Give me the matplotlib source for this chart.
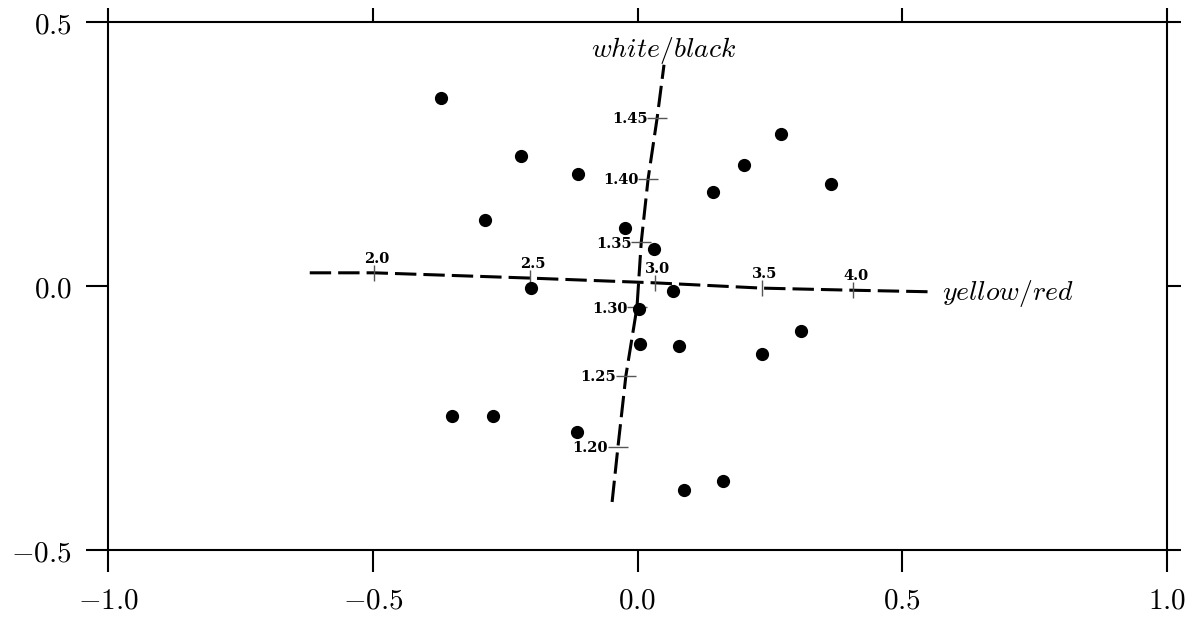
import numpy as np
import matplotlib
matplotlib.use('Agg')
import matplotlib.pyplot as plt

plt.rcParams['mathtext.fontset'] = 'cm'
plt.rcParams['font.family'] = 'serif'
plt.rcParams['font.serif'] = ['DejaVu Serif']

# observations (biplot scores)
pts_x = [-0.371, -0.220, -0.112, -0.288, -0.024, 0.031, 0.271, 0.201, 0.143, 0.365, -0.201,
         0.067, 0.003, 0.005, 0.078, 0.309, 0.235, -0.350, -0.273, -0.114, 0.088, 0.161]
pts_y = [0.356, 0.246, 0.212, 0.125, 0.110, 0.070, 0.288, 0.229, 0.178, 0.193, -0.004,
         -0.009, -0.044, -0.110, -0.114, -0.085, -0.129, -0.246, -0.246, -0.277, -0.386, -0.369]

# calibrated axis: yellow/red
yr_ticks = [2.0, 2.5, 3.0, 3.5, 4.0]
yr_x = [-0.498, -0.203, 0.033, 0.235, 0.407]
yr_y = [0.025, 0.015, 0.006, -0.004, -0.008]
yr_ends_x = [-0.619, 0.556]
yr_ends_y = [0.025, -0.011]

# calibrated axis: white/black
wb_ticks = [1.20, 1.25, 1.30, 1.35, 1.40, 1.45]
wb_x = [-0.037, -0.022, -0.001, 0.007, 0.020, 0.037]
wb_y = [-0.305, -0.170, -0.040, 0.083, 0.203, 0.318]
wb_ends_x = [-0.048, 0.050]
wb_ends_y = [-0.409, 0.419]

fig = plt.figure(figsize=(11.96, 6.18), dpi=100)
ax = fig.add_axes([0.0903, 0.110, 0.8855, 0.8544])

dash = (0, (7, 2.3))
lx = [yr_ends_x[0]] + yr_x + [yr_ends_x[1]]
ly = [yr_ends_y[0]] + yr_y + [yr_ends_y[1]]
ax.plot(lx, ly, color='black', lw=2.2, linestyle=dash, zorder=2)
lx = [wb_ends_x[0]] + wb_x + [wb_ends_x[1]]
ly = [wb_ends_y[0]] + wb_y + [wb_ends_y[1]]
ax.plot(lx, ly, color='black', lw=2.2, linestyle=dash, zorder=2)

# tick marks on the calibrated axes
ax.plot(yr_x, yr_y, linestyle='none', marker='|', ms=12, mew=1.0, color='#555555', zorder=3)
ax.plot(wb_x, wb_y, linestyle='none', marker='_', ms=14, mew=1.0, color='#555555', zorder=3)

for v, x, y in zip(yr_ticks, yr_x, yr_y):
    ax.annotate('%.1f' % v, (x, y), xytext=(2, 5), textcoords='offset points',
                ha='center', va='bottom', fontsize=10.5, fontweight='bold')
for v, x, y in zip(wb_ticks, wb_x, wb_y):
    ax.annotate('%.2f' % v, (x, y), xytext=(-7, -1), textcoords='offset points',
                ha='right', va='center', fontsize=10.5, fontweight='bold')

ax.text(wb_ends_x[1], 0.434, r'$white/black$', ha='center', va='baseline', fontsize=20)
ax.text(0.575, -0.026, r'$yellow/red$', ha='left', va='baseline', fontsize=20)

ax.plot(pts_x, pts_y, linestyle='none', marker='o', ms=8.5, color='black', zorder=4)

ax.set_xlim(-1.0, 1.0)
ax.set_ylim(-0.5, 0.5)
xt = [-1.0, -0.5, 0.0, 0.5, 1.0]
yt = [-0.5, 0.0, 0.5]
ax.set_xticks(xt)
ax.set_xticklabels([r'$%.1f$' % v for v in xt])
ax.set_yticks(yt)
ax.set_yticklabels([r'$%.1f$' % v for v in yt])
ax.tick_params(direction='out', length=16, width=1.5, labelsize=21, pad=10)
ax.tick_params(top=True, right=True)
for t in ax.xaxis.get_major_ticks():
    t.tick2line.set_markersize(10)
for t in ax.yaxis.get_major_ticks():
    t.tick2line.set_markersize(10)
for s in ax.spines.values():
    s.set_linewidth(1.5)

fig.savefig('out.png', dpi=100)
